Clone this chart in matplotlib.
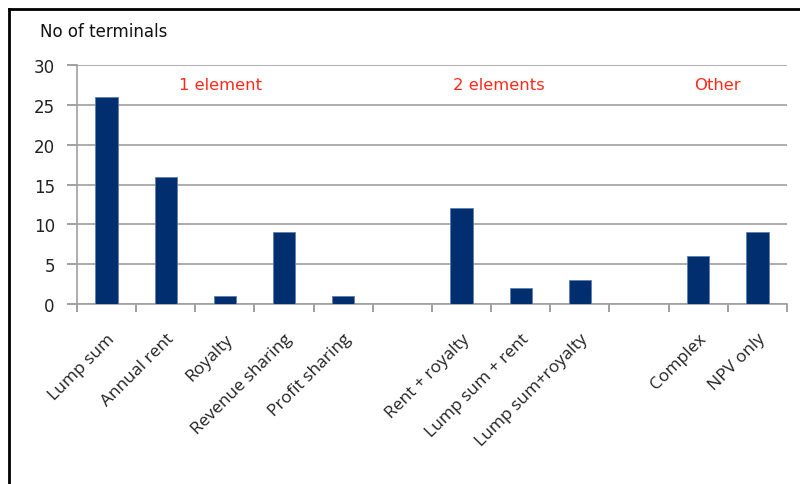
import matplotlib.pyplot as plt
from matplotlib.lines import Line2D

categories = ['Lump sum', 'Annual rent', 'Royalty', 'Revenue sharing', 'Profit sharing', '',
              'Rent + royalty', 'Lump sum + rent', 'Lump sum+royalty', '',
              'Complex', 'NPV only']
terminals = [26, 16, 1, 9, 1, 0, 12, 2, 3, 0, 6, 9]
groups = ['1 element', '2 elements', 'Other']
group_pos = [1.93, 6.63, 10.33]

fig = plt.figure(figsize=(8, 4.85), dpi=100)
ax = fig.add_axes([0.09625, 0.3711, 0.8875, 0.4928])

x = list(range(len(categories)))
ax.bar(x, terminals, width=0.38, color='#002e6e', edgecolor='#5f7fb0', linewidth=0.6, zorder=3)

ax.set_xlim(-0.5, len(categories) - 0.5)
ax.set_ylim(0, 30)
ax.set_yticks(range(0, 31, 5))
ax.set_yticklabels([str(v) for v in range(0, 31, 5)], fontsize=12, family='DejaVu Sans', color='#222222')
ax.yaxis.grid(True, color='#a0a0a0', linewidth=1.2, zorder=0)

# category boundaries as major ticks, names on minor ticks
ax.set_xticks([i - 0.5 for i in range(len(categories) + 1)], minor=False)
ax.set_xticklabels([])
ax.set_xticks(x, minor=True)
ax.set_xticklabels(categories, minor=True, rotation=45, ha='right', rotation_mode='anchor',
                   fontsize=12.5, family='Open Sans', color='#222222')
ax.tick_params(axis='x', which='major', length=6, color='#909090', width=1.2)
ax.tick_params(axis='x', which='minor', length=0, pad=19)
ax.tick_params(axis='y', length=7, color='#909090', width=1.2, pad=9)

for s in ['top', 'right']:
    ax.spines[s].set_visible(False)
for s in ['left', 'bottom']:
    ax.spines[s].set_color('#a0a0a0')
    ax.spines[s].set_linewidth(1.2)

for g, p in zip(groups, group_pos):
    ax.text(p, 27.6, g, color='#ff2a1a', fontsize=11.8, ha='center', va='center', family='DejaVu Sans')

fig.text(0.05, 0.934, 'No of terminals', fontsize=12, color='#111111', va='center', family='DejaVu Sans')

fig.add_artist(Line2D([0.0115, 1.0], [0.979, 0.979], color='black', linewidth=2, transform=fig.transFigure))
fig.add_artist(Line2D([0.0115, 0.0115], [0.0, 0.979], color='black', linewidth=2, transform=fig.transFigure))

fig.savefig('out.png', dpi=100)
